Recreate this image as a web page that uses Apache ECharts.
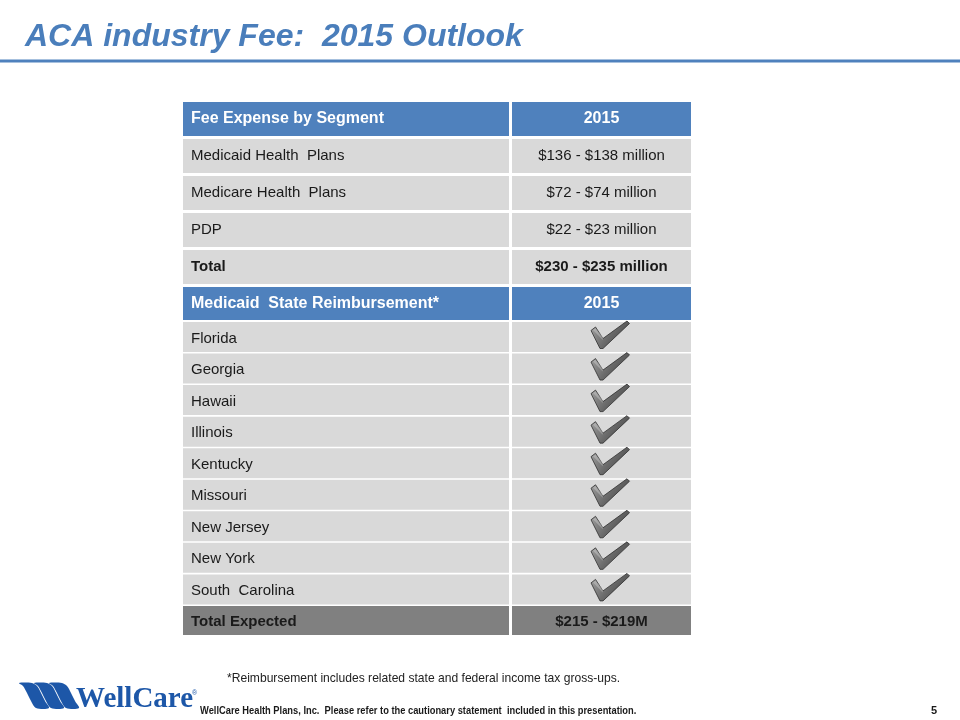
<!DOCTYPE html>
<html>
<head>
<meta charset="utf-8">
<script src="https://cdn.jsdelivr.net/npm/echarts@6/dist/echarts.min.js"></script>
<style>html,body{margin:0;padding:0;background:#fff;}#c{width:960px;height:720px;}</style>
</head>
<body>
<div id="c"></div>
<script>
// ---- data ----
const titleText = 'ACA industry Fee:  2015 Outlook';
const segmentHeader = ['Fee Expense by Segment', '2015'];
const segments = ['Medicaid Health  Plans', 'Medicare Health  Plans', 'PDP'];
const segmentFees = ['$136 - $138 million', '$72 - $74 million', '$22 - $23 million'];
const segmentTotal = ['Total', '$230 - $235 million'];
const stateHeader = ['Medicaid  State Reimbursement*', '2015'];
const states = ['Florida', 'Georgia', 'Hawaii', 'Illinois', 'Kentucky', 'Missouri', 'New Jersey', 'New York', 'South  Carolina'];
const stateReimbursed = [true, true, true, true, true, true, true, true, true];
const expectedTotal = ['Total Expected', '$215 - $219M'];
const footnote = '*Reimbursement includes related state and federal income tax gross-ups.';
const footerText = 'WellCare Health Plans, Inc.  Please refer to the cautionary statement  included in this presentation.';
const pageNumber = '5';

// ---- layout (axis units == px inside grid) ----
const TABLE_W = 508, TABLE_H = 533;
const cols = [{x0: 0, x1: 326}, {x0: 329, x1: 508}];
const rowsLayout = [];
(function () {
  let y = 0;
  for (let i = 0; i < 5; i++) { rowsLayout.push({top: y, h: 34, dy: 0}); y += 37; }
  rowsLayout.push({top: 185, h: 33, dy: 0});
  y = 220;
  for (let i = 0; i < 10; i++) { rowsLayout.push({top: y, h: i === 9 ? 29 : 30, dy: 1.5}); y += 31.55; }
})();

// ---- build cells ----
const cells = [];
function addRow(kind, left, right) {
  const row = cells.length ? cells[cells.length - 1].row + 1 : 0;
  cells.push({row, col: 0, kind, text: left});
  cells.push({row, col: 1, kind, text: right});
}
addRow('header', segmentHeader[0], segmentHeader[1]);
segments.forEach((s, i) => addRow('body', s, segmentFees[i]));
addRow('total', segmentTotal[0], segmentTotal[1]);
addRow('header', stateHeader[0], stateHeader[1]);
states.forEach((s, i) => addRow(stateReimbursed[i] ? 'check' : 'body', s, ''));
addRow('grand', expectedTotal[0], expectedTotal[1]);

const FONT = '"Liberation Sans", Arial, sans-serif';
const bg = {header: '#4f81bd', body: '#d9d9d9', total: '#d9d9d9', check: '#d9d9d9', grand: '#808080'};

function renderCell(params, api) {
  const cell = cells[params.dataIndex];
  const r = rowsLayout[cell.row], c = cols[cell.col];
  const p0 = api.coord([c.x0, r.top]);
  const p1 = api.coord([c.x1, r.top + r.h]);
  const x = Math.min(p0[0], p1[0]), y = Math.min(p0[1], p1[1]);
  const w = Math.abs(p1[0] - p0[0]), h = Math.abs(p1[1] - p0[1]);
  const children = [{type: 'rect', shape: {x, y, width: w, height: h}, style: {fill: bg[cell.kind]}}];
  const bold = cell.kind === 'header' || cell.kind === 'total' || cell.kind === 'grand';
  const size = cell.kind === 'header' ? 16 : 15;
  const color = cell.kind === 'header' ? '#ffffff' : '#1a1a1a';
  const cy = y + h / 2;
  if (cell.col === 1 && cell.kind === 'check') {
    const cx = x + w / 2;
    const pts = [[-10.5, -6.5], [-6, -10], [1.5, 1.5], [25.5, -16], [28, -13.5], [1.5, 11.5], [-1.5, 11.5]]
      .map(p => [cx + p[0], cy + p[1]]);
    children.push({
      type: 'polygon', shape: {points: pts},
      style: {
        fill: {type: 'linear', x: 0, y: 0, x2: 1, y2: 1, colorStops: [
          {offset: 0, color: '#a8a8a8'}, {offset: 0.5, color: '#6a6a6a'}, {offset: 1, color: '#3a3a3a'}]},
        stroke: '#2e2e2e', lineWidth: 0.8
      }
    });
    const hl = [[-8.5, -7], [-6, -8.8], [1.5, 0], [1.2, 3]].map(p => [cx + p[0], cy + p[1]]);
    children.push({type: 'polygon', shape: {points: hl}, style: {fill: 'rgba(255,255,255,0.25)'}});
  } else if (cell.text) {
    children.push({
      type: 'text',
      style: {
        text: cell.text,
        x: cell.col === 0 ? x + 8 : x + w / 2,
        y: cy + r.dy,
        align: cell.col === 0 ? 'left' : 'center',
        verticalAlign: 'middle',
        fill: color,
        font: (bold ? 'bold ' : '') + size + 'px ' + FONT
      }
    });
  }
  return {type: 'group', children};
}

function band(x0) {
  // swoosh band of the logo, absolute coordinates
  return [[x0, 683], [x0 + 13, 683], [x0 + 18, 686], [x0 + 22, 693], [x0 + 26, 701], [x0 + 30, 708],
          [x0 + 17, 708], [x0 + 12, 701], [x0 + 8, 693], [x0 + 4, 686]];
}

const chart = echarts.init(document.getElementById('c'), null, {renderer: 'canvas'});
chart.setOption({
  backgroundColor: '#ffffff',
  animation: false,
  title: {
    text: titleText, left: 20, top: 16,
    textStyle: {color: '#4a7ebb', fontStyle: 'italic', fontWeight: 'bold', fontSize: 32, fontFamily: FONT}
  },
  grid: {left: 183, top: 102, width: TABLE_W, height: TABLE_H},
  xAxis: {type: 'value', min: 0, max: TABLE_W, show: false},
  yAxis: {type: 'value', min: 0, max: TABLE_H, inverse: true, show: false},
  series: [{
    type: 'custom',
    renderItem: renderCell,
    data: cells.map(c => [c.col, c.row]),
    encode: {x: 0, y: 1},
    silent: true
  }],
  graphic: [
    {type: 'rect', shape: {x: 0, y: 59.5, width: 960, height: 3}, style: {fill: '#4f81bd'}},
    {type: 'text', x: 227, y: 672, scaleX: 0.93, style: {text: footnote, fill: '#222', font: '13px "Liberation Sans", Arial, sans-serif'}},
    {type: 'text', x: 200, y: 705, scaleX: 0.847, style: {text: footerText, fill: '#1a1a1a', font: 'bold 11px "Liberation Sans", Arial, sans-serif'}},
    {type: 'text', x: 931, y: 705, style: {text: pageNumber, fill: '#1a1a1a', font: 'bold 11px "Liberation Sans", Arial, sans-serif'}},
    {type: 'polygon', shape: {points: band(19), smooth: 0.3}, style: {fill: '#1d57a8'}},
    {type: 'polygon', shape: {points: band(34), smooth: 0.3}, style: {fill: '#1d57a8'}},
    {type: 'polygon', shape: {points: band(49), smooth: 0.3}, style: {fill: '#1d57a8'}},
    {type: 'text', x: 76, y: 685, style: {text: 'WellCare', fill: '#1d57a8', font: 'bold 29px "Liberation Serif", "Times New Roman", serif'}},
    {type: 'text', x: 192, y: 690, style: {text: '®', fill: '#1d57a8', font: '7px "Liberation Sans", Arial, sans-serif'}}
  ]
});
</script>
</body>
</html>
